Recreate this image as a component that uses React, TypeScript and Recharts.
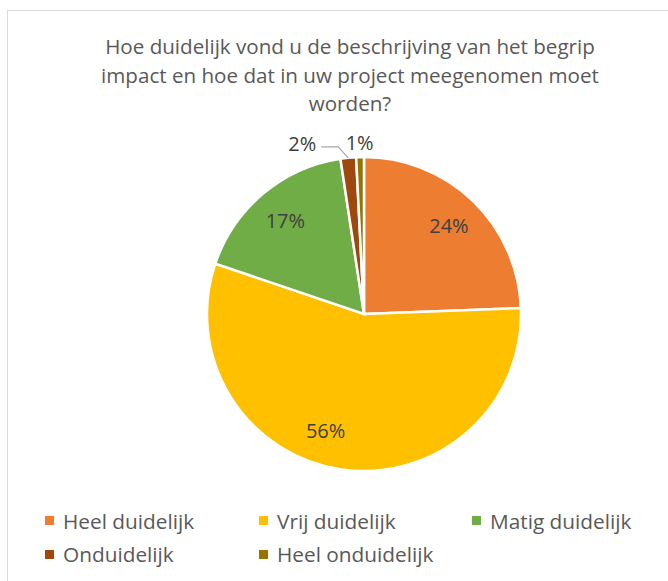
import React from 'react';
import { PieChart, Pie, Cell, Legend } from 'recharts';

const categories = ['Heel duidelijk', 'Vrij duidelijk', 'Matig duidelijk', 'Onduidelijk', 'Heel onduidelijk'];
const shares = [24.4, 55.8, 17.4, 1.6, 0.8];
const colors = ['#ED7D31', '#FFC000', '#70AD47', '#9E480E', '#997300'];
const titleLines = [
  'Hoe duidelijk vond u de beschrijving van het begrip',
  'impact en hoe dat in uw project meegenomen moet',
  'worden?',
];

const data = categories.map((name, i) => ({ name, value: shares[i], color: colors[i] }));

const FONT = '"Open Sans", "Noto Sans", sans-serif';
const RAD = Math.PI / 180;

function renderLabel(props: any) {
  const { cx, cy, midAngle, outerRadius, percent, index } = props;
  const pct = `${Math.round(percent * 100)}%`;
  const polar = (angle: number, r: number) => ({
    x: cx + r * Math.cos(-angle * RAD),
    y: cy + r * Math.sin(-angle * RAD),
  });
  if (percent >= 0.05) {
    const shift = index === 1 ? -10 : 0;
    const p = polar(midAngle + shift, outerRadius * 0.78);
    return (
      <text x={p.x} y={p.y} textAnchor="middle" dominantBaseline="central" fill="#404040" fontSize={20} fontFamily={FONT}>
        {pct}
      </text>
    );
  }
  if (index === 3) {
    const p = polar(midAngle, outerRadius);
    const ex = p.x - 10;
    const ey = p.y - 11;
    const sx = ex - 17;
    return (
      <g>
        <polyline points={`${p.x},${p.y} ${ex},${ey} ${sx},${ey}`} fill="none" stroke="#A6A6A6" strokeWidth={1.2} />
        <text x={sx - 5} y={ey - 3} textAnchor="end" dominantBaseline="central" fill="#404040" fontSize={20} fontFamily={FONT}>
          {pct}
        </text>
      </g>
    );
  }
  const p = polar(midAngle, outerRadius + 15);
  return (
    <text x={p.x} y={p.y} textAnchor="middle" dominantBaseline="central" fill="#404040" fontSize={20} fontFamily={FONT}>
      {pct}
    </text>
  );
}

const colX = [45, 259, 472];
const rowY = [520.5, 554];

function renderLegend(props: any) {
  const payload = [...(props.payload || [])].sort(
    (a: any, b: any) => categories.indexOf(a.value) - categories.indexOf(b.value)
  );
  return (
    <div style={{ position: 'relative', width: 668, height: 70 }}>
      {payload.map((entry: any, i: number) => {
        const col = i % 3;
        const row = Math.floor(i / 3);
        return (
          <div
            key={entry.value}
            style={{
              position: 'absolute',
              left: colX[col],
              top: rowY[row] - 500 - 14,
              height: 28,
              display: 'flex',
              alignItems: 'center',
              whiteSpace: 'nowrap',
            }}
          >
            <span style={{ display: 'inline-block', width: 9, height: 9, background: entry.color, marginRight: 9 }} />
            <span style={{ fontFamily: FONT, fontSize: 20.8, color: '#595959', lineHeight: '28px' }}>{entry.value}</span>
          </div>
        );
      })}
    </div>
  );
}

export default function App() {
  return (
    <div style={{ position: 'absolute', left: 0, top: 0, width: 668, height: 581, overflow: 'hidden', background: '#fff' }}>
      <div
        style={{
          position: 'absolute',
          left: 7,
          top: 10,
          width: 720,
          height: 640,
          border: '1.5px solid #D9D9D9',
        }}
      />
      <svg width={668} height={130} style={{ position: 'absolute', left: 0, top: 0 }}>
        {titleLines.map((t, i) => (
          <text key={i} x={350} y={54 + i * 28.5} textAnchor="middle" fill="#595959" fontSize={20.6} fontFamily={FONT}>
            {t}
          </text>
        ))}
      </svg>
      <div style={{ position: 'absolute', left: 0, top: 0 }}>
        <PieChart width={668} height={581} margin={{ top: 0, right: 0, bottom: 0, left: 0 }}>
          <Pie
            data={data}
            dataKey="value"
            nameKey="name"
            cx={364}
            cy={314}
            outerRadius={157}
            startAngle={90}
            endAngle={-270}
            stroke="#FFFFFF"
            strokeWidth={2.5}
            label={renderLabel}
            labelLine={false}
            isAnimationActive={false}
          >
            {data.map((d) => (
              <Cell key={d.name} fill={d.color} />
            ))}
          </Pie>
          <Legend
            content={renderLegend}
            wrapperStyle={{ position: 'absolute', left: 0, top: 500, width: 668, height: 70 }}
          />
        </PieChart>
      </div>
    </div>
  );
}
